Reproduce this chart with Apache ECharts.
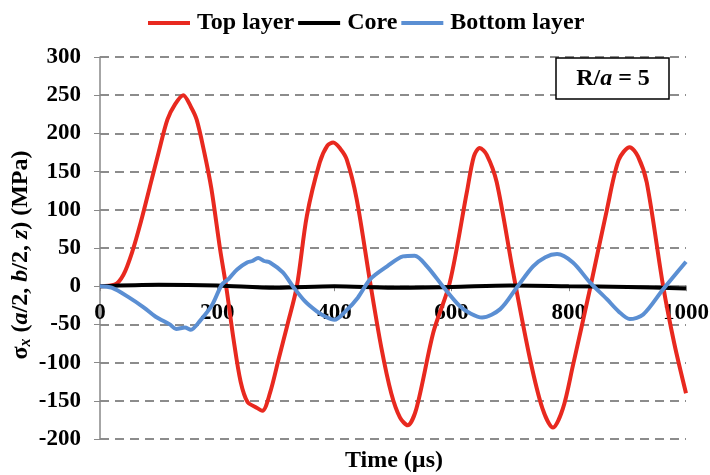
<!DOCTYPE html>
<html>
<head>
<meta charset="utf-8">
<script src="https://cdn.jsdelivr.net/npm/echarts@6/dist/echarts.min.js"></script>
<style>
  html, body { margin: 0; padding: 0; background: #fff; }
  #chart { width: 710px; height: 475px; }
</style>
</head>
<body>
<div id="chart"></div>
<script>
  // values: [time (µs), stress (MPa)]
  const topLayer = [
    [0, 0], [25, 2], [40, 15], [55, 45], [70, 85], [85, 130], [100, 175], [115, 218], [128, 238],
    [142, 250], [155, 235], [165, 218], [178, 175], [190, 128], [205, 48], [216, -4], [228, -70],
    [240, -125], [252, -152], [265, -158], [277, -163], [290, -140], [305, -95], [320, -50],
    [336, 0], [353, 92], [375, 162], [388, 184], [398, 188], [410, 180], [421, 166], [438, 114],
    [461, 5], [480, -80], [497, -140], [512, -172], [525, -182], [540, -160], [569, -60],
    [597, 5], [626, 123], [638, 170], [648, 181], [660, 172], [677, 136], [705, 18], [734, -96],
    [755, -160], [773, -185], [790, -160], [807, -104], [836, -4], [865, 100], [885, 165],
    [904, 182], [918, 170], [933, 136], [961, 0], [980, -75], [1000, -140]
  ]
  const core = [
    [0, 0], [100, 2], [200, 1], [300, -2], [400, 0], [500, -2], [600, -1], [700, 1],
    [800, 0], [900, -1], [1000, -3]
  ]
  const bottomLayer = [
    [0, 0], [20, -2], [50, -15], [75, -28], [95, -40], [119, -50], [130, -56], [145, -54],
    [155, -57], [171, -45], [191, -25], [208, 2], [220, 10], [234, 22], [251, 31], [260, 33],
    [270, 37], [280, 33], [290, 31], [312, 18], [329, 0], [350, -20], [370, -33], [385, -40],
    [400, -44], [420, -32], [440, -15], [461, 9], [490, 26], [517, 39], [537, 40], [558, 26],
    [585, 0], [614, -26], [633, -36], [652, -41], [683, -30], [711, -2], [739, 26], [760, 38],
    [780, 42], [807, 31], [836, 5], [865, -17], [885, -33], [904, -43], [927, -37], [961, -4],
    [1000, 32]
  ]
  const seriesNames = ['Top layer', 'Core', 'Bottom layer']
  const seriesColors = ['#e8291f', '#000000', '#5b8fd3']
  const yMin = -200
  const yMax = 300

  const font = '"Liberation Serif", "Times New Roman", serif'
  const gridTop = 57
  const gridBottom = 36
  const plotHeight = 475 - gridTop - gridBottom
  // lift the time axis up to the y = 0 line
  const zeroOffset = -plotHeight * (0 - yMin) / (yMax - yMin)

  function lineSeries(name, data, color) {
    return {
      name: name,
      type: 'line',
      data: data,
      smooth: 0.3,
      showSymbol: false,
      lineStyle: { color: color, width: 4 },
      itemStyle: { color: color }
    }
  }

  const chart = echarts.init(document.getElementById('chart'))
  chart.setOption({
    animation: false,
    legend: {
      top: 6,
      left: 143,
      icon: 'rect',
      itemWidth: 42,
      itemHeight: 4,
      itemGap: 4,
      textStyle: { fontFamily: font, fontWeight: 'bold', fontSize: 24, color: '#000', padding: [0, 0, 0, 2] },
      data: seriesNames
    },
    grid: { left: 100, right: 24, top: gridTop, bottom: gridBottom, outerBoundsMode: 'none', containLabel: false },
    xAxis: {
      type: 'value',
      min: 0,
      max: 1000,
      interval: 200,
      offset: zeroOffset,
      axisLine: { onZero: false, lineStyle: { color: '#888', width: 1.5 } },
      axisTick: { show: true, length: 5, lineStyle: { color: '#888' } },
      splitLine: { show: false },
      axisLabel: {
        fontFamily: font, fontWeight: 'bold', fontSize: 23, color: '#000', margin: 15,
        formatter: v => String(v)
      }
    },
    yAxis: {
      type: 'value',
      min: yMin,
      max: yMax,
      interval: 50,
      axisLine: { show: true, onZero: false, lineStyle: { color: '#888', width: 1.5 } },
      axisTick: { show: true, length: 6, lineStyle: { color: '#888' } },
      splitLine: { lineStyle: { color: '#8c8c8c', type: [9, 6], width: 2 } },
      axisLabel: { fontFamily: font, fontWeight: 'bold', fontSize: 23, color: '#000', margin: 19 }
    },
    series: [
      lineSeries(seriesNames[0], topLayer, seriesColors[0]),
      lineSeries(seriesNames[1], core, seriesColors[1]),
      lineSeries(seriesNames[2], bottomLayer, seriesColors[2])
    ],
    graphic: [
      {
        type: 'text',
        x: 394,
        y: 461,
        style: {
          text: 'Time (µs)',
          font: 'bold 24px ' + font,
          fill: '#000',
          align: 'center',
          verticalAlign: 'middle'
        }
      },
      {
        type: 'text',
        x: 21,
        y: 255,
        rotation: Math.PI / 2,
        style: {
          text: '{b|σ}{s|x}{b| (}{i|a}{b|/2, }{i|b}{b|/2, }{i|z}{b|) (MPa)}',
          align: 'center',
          verticalAlign: 'middle',
          fill: '#000',
          rich: {
            b: { fontFamily: font, fontWeight: 'bold', fontSize: 24, fill: '#000' },
            i: { fontFamily: font, fontWeight: 'bold', fontStyle: 'italic', fontSize: 24, fill: '#000' },
            s: { fontFamily: font, fontWeight: 'bold', fontStyle: 'italic', fontSize: 16, fill: '#000', padding: [10, 0, 0, 0] }
          }
        }
      },
      {
        type: 'rect',
        shape: { x: 556, y: 58, width: 113, height: 41 },
        style: { fill: '#fff', stroke: '#000', lineWidth: 1.5 },
        z: 10
      },
      {
        type: 'text',
        x: 613,
        y: 79,
        z: 11,
        style: {
          text: '{b|R/}{i|a}{b| = 5}',
          align: 'center',
          verticalAlign: 'middle',
          rich: {
            b: { fontFamily: font, fontWeight: 'bold', fontSize: 24, fill: '#000' },
            i: { fontFamily: font, fontWeight: 'bold', fontStyle: 'italic', fontSize: 24, fill: '#000' }
          }
        }
      }
    ]
  })
</script>
</body>
</html>
